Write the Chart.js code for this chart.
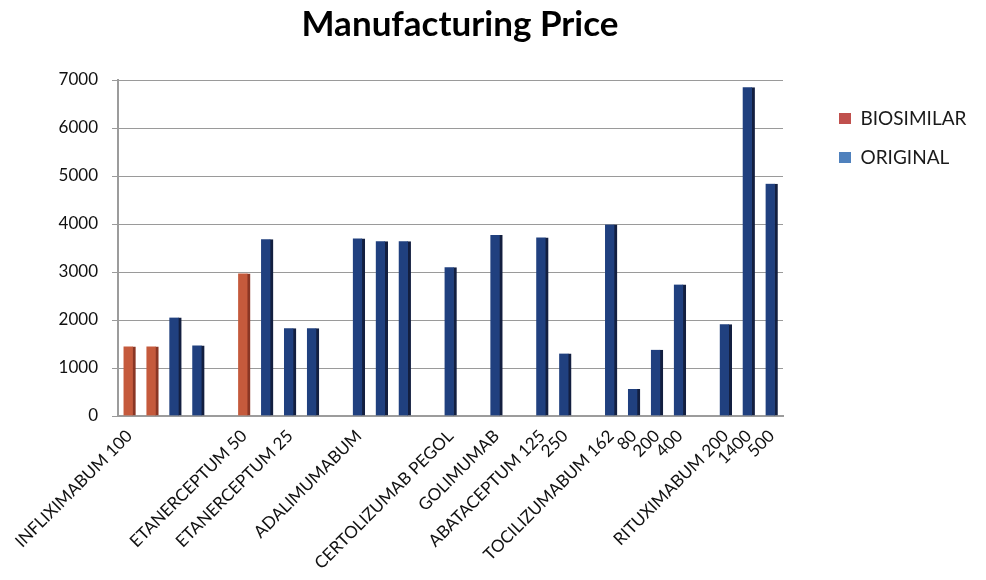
<!DOCTYPE html>
<html>
<head>
<meta charset="utf-8">
<script src="https://cdn.jsdelivr.net/npm/chart.js@4/dist/chart.umd.min.js"></script>
<style>
  html, body { margin: 0; padding: 0; background: #fff; }
  #wrap { width: 986px; height: 580px; }
</style>
</head>
<body>
<div id="wrap"><canvas id="priceChart"></canvas></div>
<script>
// category labels (blank where the original chart shows no label)
const categories = [
    "INFLIXIMABUM 100", "", "", "", "",
    "ETANERCEPTUM 50", "", "ETANERCEPTUM 25", "", "",
    "ADALIMUMABUM", "", "", "",
    "CERTOLIZUMAB PEGOL", "", "GOLIMUMAB", "",
    "ABATACEPTUM 125", "250", "",
    "TOCILIZUMABUM 162", "80", "200", "400", "",
    "RITUXIMABUM 200", "1400", "500"
];

const biosimilar = [
    1450, 1450, null, null, null,
    2970, null, null, null, null,
    null, null, null, null,
    null, null, null, null,
    null, null, null,
    null, null, null, null, null,
    null, null, null
];

const original = [
    null, null, 2050, 1470, null,
    null, 3680, 1830, 1830, null,
    3700, 3640, 3640, null,
    3100, null, 3770, null,
    3720, 1300, null,
    3990, 560, 1380, 2740, null,
    1910, 6850, 4840
];

const yTicks = [0, 1000, 2000, 3000, 4000, 5000, 6000, 7000];
const legendColors = ["#C0504D", "#4F81BD"];

// Excel-like placement of the legend and the title
const layoutTweaks = {
    id: "layoutTweaks",
    beforeInit(chart) {
        const lg = chart.legend;
        const fit = lg.fit;
        lg.fit = function () {
            fit.call(this);
            this.width = 203;
        };
    },
    afterLayout(chart) {
        chart.legend.left = chart.chartArea.right + 36;
        chart.legend.top = chart.chartArea.top + 9;
        chart.titleBlock.left -= 33;
        chart.titleBlock.right -= 33;
    }
};

const ctx = document.getElementById("priceChart").getContext("2d");

new Chart(ctx, {
    type: "bar",
    data: {
        labels: categories,
        datasets: [
            {
                label: "BIOSIMILAR",
                data: biosimilar,
                backgroundColor: "#C55A3C",
                borderColor: "#8A3624",
                borderWidth: { top: 0, right: 3, bottom: 0, left: 0 },
                borderSkipped: false,
                barThickness: 12,
            },
            {
                label: "ORIGINAL",
                data: original,
                backgroundColor: "#20407F",
                borderColor: "#131F40",
                borderWidth: { top: 0, right: 3, bottom: 0, left: 0 },
                borderSkipped: false,
                barThickness: 12,
            },
        ],
    },
    plugins: [layoutTweaks],
    options: {
        responsive: true,
        maintainAspectRatio: false,
        animation: false,
        datasets: {
            bar: { grouped: false },
        },
        layout: {
            padding: { left: 0, right: 0, top: 0, bottom: 0 },
        },
        plugins: {
            title: {
                display: true,
                text: "Manufacturing Price",
                color: "#000",
                font: { family: "Lato", size: 35, weight: "bold" },
                padding: { top: 4, bottom: 34 },
            },
            legend: {
                display: true,
                position: "right",
                align: "start",
                fullSize: false,
                labels: {
                    color: "#1a1a1a",
                    font: { family: "Lato", size: 19 },
                    boxWidth: 12,
                    boxHeight: 11,
                    padding: 20,
                    generateLabels(chart) {
                        const items = Chart.defaults.plugins.legend.labels.generateLabels(chart);
                        items.forEach((it, i) => {
                            it.fillStyle = legendColors[i];
                            it.strokeStyle = legendColors[i];
                            it.lineWidth = 0;
                        });
                        return items;
                    },
                },
            },
            tooltip: { enabled: false },
        },
        scales: {
            x: {
                afterFit(scale) {
                    scale.height = 164;
                },
                grid: { display: false },
                border: { color: "#9c9c9c", width: 2 },
                ticks: {
                    autoSkip: false,
                    maxRotation: 45,
                    minRotation: 45,
                    color: "#111",
                    font: { family: "Lato", size: 17 },
                    padding: 2,
                },
            },
            y: {
                min: 0,
                max: 7000,
                afterFit(scale) {
                    scale.width = 118;
                },
                afterBuildTicks(scale) {
                    scale.ticks = yTicks.map((v) => ({ value: v }));
                },
                grid: {
                    color: "#9a9a9a",
                    lineWidth: 1,
                    tickLength: 6,
                },
                border: { color: "#9c9c9c", width: 2 },
                ticks: {
                    color: "#111",
                    font: { family: "Lato", size: 17 },
                    padding: 14,
                    callback: (v) => String(v),
                },
            },
        },
    },
});
</script>
</body>
</html>
